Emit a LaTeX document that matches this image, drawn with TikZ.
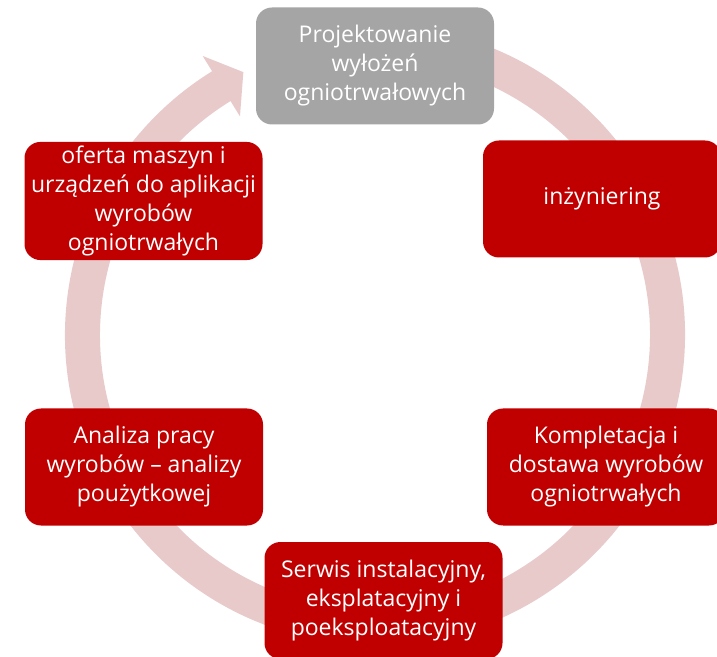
\documentclass[tikz,border=0pt]{standalone}
\usepackage{fontspec}
\setmainfont{Open Sans}
\definecolor{boxred}{RGB}{192,0,0}
\definecolor{boxgray}{RGB}{165,165,165}
\definecolor{ringpink}{RGB}{232,202,202}
\begin{document}
\begin{tikzpicture}[
        x=1pt, y=1pt,
        stage/.style={rectangle, rounded corners=16pt, fill=boxred, text=white, align=center,
                      minimum width=238pt, minimum height=117pt, inner sep=4pt,
                      font=\fontsize{23}{29}\selectfont},
        design/.style={stage, fill=boxgray},
        ring/.style={fill=ringpink, draw=none}
    ]
    \useasboundingbox (0,0) rectangle (717,656);
    \clip (0,0) rectangle (717,656);

    % Circular arrow behind the boxes
    \begin{scope}[shift={(375,321)}]
    \fill[ring] (80:310) arc[start angle=80, end angle=-238.3, radius=310]
        -- (-238.3:328) -- (-243.4:294) -- (-238.3:257) -- (-238.3:275)
        arc[start angle=-238.3, end angle=80, radius=275] -- cycle;
    \end{scope}

    % Top
    \node[design] (proj) at (375,590) {Projektowanie\\wyłożeń\\ogniotrwałowych};

    % Right side
    \node[stage] (inz) at (602,457) {inżyniering};
    \node[stage] (kompl) at (606,189) {Kompletacja i\\dostawa wyrobów\\ogniotrwałych};

    % Bottom
    \node[stage] (serwis) at (383.5,55.5) {Serwis instalacyjny,\\eksplatacyjny i\\poeksploatacyjny};

    % Left side
    \node[stage] (analiza) at (144,189) {Analiza pracy\\wyrobów -- analizy\\poużytkowej};
    \node[stage] (oferta) at (143.5,455) {oferta maszyn i\\urządzeń do aplikacji\\wyrobów\\ogniotrwałych};

\end{tikzpicture}
\end{document}
